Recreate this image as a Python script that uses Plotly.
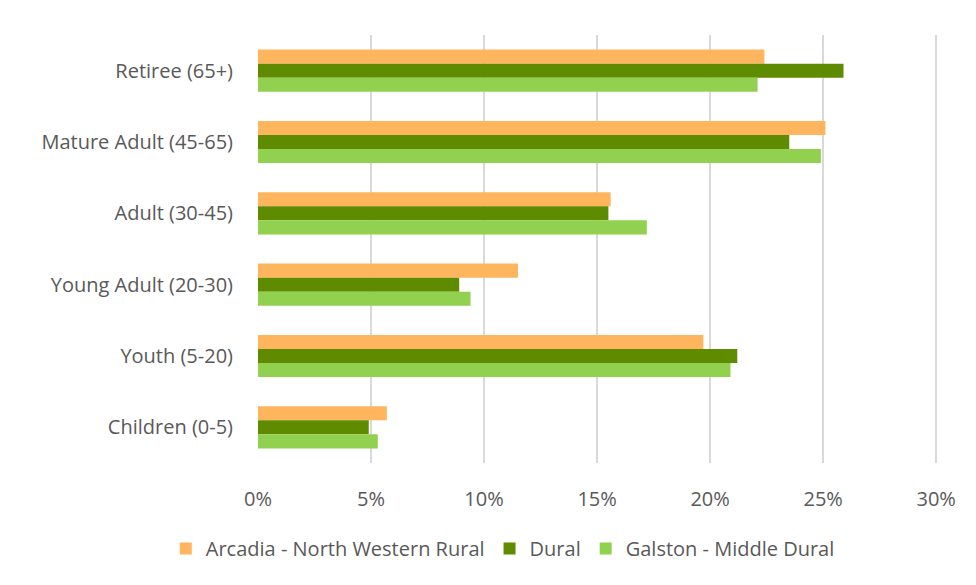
import plotly.graph_objects as go

# Age groups, listed top to bottom
age_groups = ["Retiree (65+)", "Mature Adult (45-65)", "Adult (30-45)",
              "Young Adult (20-30)", "Youth (5-20)", "Children (0-5)"]

# Share of population in each age group (%)
arcadia = [22.4, 25.1, 15.6, 11.5, 19.7, 5.7]
dural = [25.9, 23.5, 15.5, 8.9, 21.2, 4.9]
galston = [22.1, 24.9, 17.2, 9.4, 20.9, 5.3]

series_names = ["Arcadia - North Western Rural", "Dural", "Galston - Middle Dural"]
series_values = [arcadia, dural, galston]
series_colors = ["#FFB55E", "#5F8B00", "#92D050"]

x_ticks = [0, 5, 10, 15, 20, 25, 30]

font_family = "Open Sans, Lato, sans-serif"
text_color = "#595959"
font_size = 20

fig = go.Figure()
for name, vals, color in zip(series_names, series_values, series_colors):
    fig.add_trace(go.Bar(
        y=age_groups, x=vals, name=name, orientation="h",
        marker=dict(color=color, line=dict(width=0)),
    ))

fig.update_layout(
    width=976, height=585,
    margin=dict(l=258, r=38, t=35, b=122),
    paper_bgcolor="white", plot_bgcolor="white",
    barmode="group", bargap=0.41, bargroupgap=0,
    font=dict(family=font_family, size=font_size, color=text_color),
    showlegend=True,
    legend=dict(
        orientation="h", x=0.36, xanchor="center", y=-0.2, yanchor="middle",
        font=dict(size=font_size, color=text_color), traceorder="normal",
        itemwidth=30,
    ),
    xaxis=dict(
        range=[0, 30.08], tickvals=x_ticks,
        ticktext=[f"{v}%" for v in x_ticks],
        showgrid=True, gridcolor="#D9D9D9", gridwidth=2,
        zeroline=False, showline=False,
        ticklabelstandoff=22,
        tickfont=dict(size=font_size, color=text_color),
        fixedrange=True,
    ),
    yaxis=dict(
        autorange="reversed", categoryorder="array", categoryarray=age_groups,
        showgrid=False, zeroline=False, showline=False,
        ticklabelstandoff=24,
        tickfont=dict(size=font_size, color=text_color),
    ),
)

fig.write_html("out.html")
